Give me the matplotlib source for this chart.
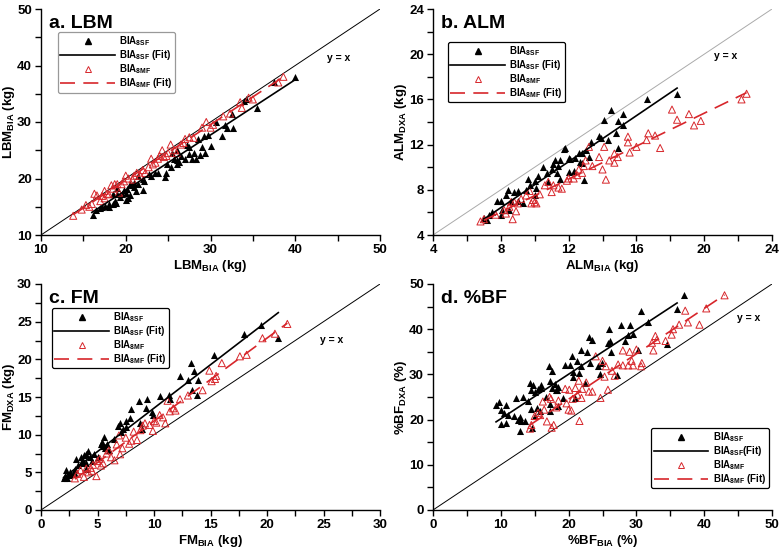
import matplotlib
matplotlib.use("Agg")
import matplotlib.pyplot as plt
from matplotlib.lines import Line2D
from matplotlib.ticker import MultipleLocator

plt.rcParams["font.family"] = ["Liberation Sans", "DejaVu Sans"]
plt.rcParams["font.weight"] = "bold"
plt.rcParams["mathtext.fontset"] = "custom"
plt.rcParams["mathtext.rm"] = "Liberation Sans:bold"
plt.rcParams["mathtext.it"] = "Liberation Sans:bold"
plt.rcParams["mathtext.bf"] = "Liberation Sans:bold"
plt.rcParams["mathtext.default"] = "rm"

RED = "#d7262b"

# ---- a. LBM ----
lbm_sf_x = [16.1, 16.5, 17.2, 17.5, 18, 18.5, 18.7, 18.9, 18.5, 19, 19.3, 19.6, 19.8, 20, 20.2, 20.3, 20.5,
            20.7, 21, 21.2, 21.5, 22, 22, 22.1, 22.8, 23.5, 23.8, 24.6, 24.7, 24.9, 25.3, 25.7, 26, 26.1,
            26.3, 26.5, 27, 27.2, 27.5, 27.5, 27.8, 28, 28.3, 28.5, 28.8, 29, 29.2, 29.3, 29.7, 30, 30.7,
            31.3, 31.7, 32, 32.5, 32.7, 34, 34.2, 35.5, 37.5, 40, 20, 21, 23, 25.5, 26, 18, 17, 19, 20.5, 21.5]
lbm_sf_y = [13.5, 14.5, 15, 15.2, 15.5, 15.5, 16, 15.6, 17.3, 17.2, 16.8, 17.2, 18, 17.5, 18.2, 16.5, 17,
            18.9, 19.2, 17.8, 19, 18, 20, 19.5, 20.8, 21, 21, 20.2, 21, 22.5, 22, 23.5, 23.2, 22.6,
            23, 24, 23.5, 26, 25.5, 24.3, 23.5, 24.5, 23.5, 27, 24.2, 25.5, 27.5, 24.5, 27.7, 25.8, 30,
            27.5, 29.5, 29, 31.5, 29, 33.8, 34, 32.5, 37, 38, 16.2, 18.5, 20.5, 24.5, 25, 15, 14.8, 18.3, 19, 20.5]
lbm_mf_x = [13.8, 14.8, 15.3, 15.7, 16, 16.3, 16.6, 17, 17.2, 17.5, 17.8, 18, 18.3, 18.5, 18.7, 19, 19.2,
            19.5, 20, 20.3, 20.8, 21, 21.3, 21.7, 22.3, 22.7, 23, 23.2, 23.5, 23.8, 24, 24.3, 24.5, 25,
            25.3, 25.8, 26, 26.5, 27, 27.5, 28, 29, 29.5, 30, 30.3, 31.5, 32.3, 33.5, 33.7, 34.5, 35,
            38, 38.6, 24.8, 22, 19.8, 17.5, 26.8]
lbm_mf_y = [13.4, 14.5, 15.3, 15, 15.5, 17.3, 17, 16, 16.9, 17.8, 17.3, 17.2, 18.8, 18.2, 19, 19, 17.5,
            19, 20.5, 20, 19.8, 20.5, 21, 20.5, 21, 22, 23.5, 22.5, 22.8, 23.5, 24, 25, 23.8, 24.5,
            26, 25, 24.5, 26, 27, 27.3, 27.2, 29, 30, 29, 29.5, 31, 31.5, 33.5, 32.5, 34.3, 34,
            37, 38, 24, 21.5, 19.5, 16.5, 26.3]
lbm_sf_fit_x = [16.0, 40.0]
lbm_sf_fit_y = [14.0, 37.5]
lbm_mf_fit_x = [13.8, 38.5]
lbm_mf_fit_y = [13.6, 37.9]

# ---- b. ALM ----
alm_sf_x = [7, 7.2, 7.3, 7.5, 7.8, 8, 8, 8.1, 8.3, 8.4, 8.5, 8.6, 8.8, 9, 9, 9.3, 9.5, 9.6, 9.7, 10, 10,
            10.1, 10.2, 10.5, 10.7, 10.8, 11, 11.1, 11.2, 11.3, 11.4, 11.5, 11.5, 11.7, 11.8, 12, 12.1,
            12.3, 12.4, 12.6, 12.7, 12.8, 12.8, 12.9, 13, 13.2, 13.3, 13.8, 13.9, 14.1, 14.3, 14.5, 14.8,
            14.9, 14.9, 15.2, 15.2, 16.6, 18.4, 12]
alm_sf_y = [5.5, 5.3, 5.8, 6, 7, 5.8, 7, 6.2, 7.5, 8, 6.2, 7, 7.8, 7.9, 7, 6.8, 8, 9, 8.4, 8.8, 7.5,
            8.2, 9.2, 10, 9.5, 8.7, 9.8, 10.3, 10.6, 9.5, 10.1, 10.6, 9, 11.6, 11.7, 9.6, 10.7,
            9.7, 10.8, 11.3, 10.5, 10.4, 11.3, 8.9, 11.5, 10.9, 12.2, 12.8, 12.6, 14.2, 12.4, 15.1, 13,
            14.1, 11.7, 14.7, 13.7, 16, 16.5, 10.8]
alm_mf_x = [6.8, 7, 7.7, 8.2, 8.3, 8.5, 8.7, 8.8, 8.9, 9, 9.2, 9.5, 9.7, 9.8, 9.9, 10, 10.1, 10.3, 10.6,
            10.8, 11.1, 11.4, 11.6, 11.9, 12, 12.3, 12.5, 12.6, 12.9, 13, 13.2, 13.4, 13.8, 14, 14.1,
            14.2, 14.4, 14.7, 14.7, 14.9, 15.5, 15.5, 15.6, 16, 16.6, 16.7, 17.1, 17.4, 18.1, 18.4, 19.1,
            19.4, 19.8, 22.2, 22.5, 12.8, 11, 8.6]
alm_mf_y = [5.2, 5.4, 5.8, 6.2, 5.9, 6.5, 5.4, 6.9, 6.1, 6.8, 7.2, 7.5, 7.9, 6.8, 7.1, 6.9, 6.8, 7.6, 8.4,
            8.7, 8.4, 8.2, 8.1, 8.8, 9, 9, 9.3, 9.8, 10.1, 10.6, 11.8, 10.1, 10.9, 9.8, 11.8,
            8.9, 10.6, 11.2, 10.4, 10.9, 12.7, 12.2, 11.3, 11.8, 12.4, 13, 12.8, 11.7, 15.1, 14.2, 14.7,
            13.7, 14.1, 16, 16.5, 9.5, 7.8, 6.9]
alm_sf_fit_x = [7.0, 18.4]
alm_sf_fit_y = [5.4, 17.0]
alm_mf_fit_x = [7.0, 22.5]
alm_mf_fit_y = [5.3, 16.6]

# ---- c. FM ----
fm_sf_x = [2, 2.1, 2.2, 2.3, 2.6, 2.8, 3, 3.1, 3.3, 3.5, 3.5, 3.7, 3.8, 4, 4, 4.2, 4.3, 4.5, 4.7, 5,
           5.3, 5.4, 5.5, 5.6, 5.7, 5.8, 6, 6.5, 6.8, 7, 7.1, 7.3, 7.5, 7.5, 7.9, 8, 8.7, 8.8, 8.9,
           9.3, 9.4, 9.8, 9.9, 10.5, 11.3, 11.4, 12.3, 13, 13.3, 13.4, 13.5, 13.8, 13.9, 15.3, 18,
           19.5, 21, 4, 3, 2.5]
fm_sf_y = [4.2, 4.5, 5.3, 4.2, 5, 4.8, 5.5, 6.8, 6, 6.3, 7, 6.5, 7.3, 6.2, 7.5, 7.8, 7, 6.5, 7.5, 7,
           8.8, 9, 8.5, 9.7, 8.2, 8.8, 7.9, 9.4, 11.2, 11.5, 10.3, 10.8, 11.8, 11, 12.2, 13.4, 14.5,
           11.5, 10.8, 13.6, 14.7, 13, 12.6, 15.1, 15.2, 14.8, 17.8, 17.3, 19.5, 15.9, 18.4, 15.2,
           17.2, 20.6, 23.4, 24.6, 22.8, 5.5, 4.8, 4.6]
fm_mf_x = [3, 3.2, 3.5, 3.8, 4, 4.2, 4.4, 4.6, 4.9, 5, 5.2, 5.5, 5.8, 6.2, 6.5, 6.7, 6.9, 7, 7.2, 7.5,
           8, 8.2, 8.5, 8.8, 9, 9.2, 9.6, 9.9, 10, 10.2, 10.5, 10.8, 11, 11.2, 11.4, 11.7, 11.9, 12.3,
           13, 14.3, 14.9, 15.1, 15.4, 15.5, 16, 17.6, 18.2, 19.6, 20.7, 21.8, 6, 7.8, 5.3, 4.5]
fm_mf_y = [4.2, 4.8, 5.3, 4.4, 5.5, 5, 5.6, 6, 4.5, 6.5, 6.8, 6.2, 7.5, 7, 6.6, 8.7, 9.9, 7.4, 8.2, 9.6,
           9.2, 10.4, 9.3, 10.6, 11.2, 11.5, 11.3, 10.5, 11.8, 11.6, 12.6, 12.3, 11.5, 14.5, 13.1, 13.5,
           13.2, 14.7, 15.2, 15.9, 18.5, 17.1, 17.4, 17.8, 19.5, 20.4, 20.6, 22.8, 23.4, 24.7, 7.9,
           8.8, 5.9, 5.2]
fm_sf_fit_x = [2.0, 21.0]
fm_sf_fit_y = [4.3, 26.2]
fm_mf_fit_x = [3.0, 21.8]
fm_mf_fit_y = [4.1, 24.8]

# ---- d. %BF ----
bf_sf_x = [9.3, 9.7, 10, 10, 10.5, 10.7, 10.8, 11, 12, 12.3, 12.5, 12.8, 12.8, 13, 13.3, 13.6, 14, 14.3,
           14.4, 14.4, 14.6, 14.8, 15, 15.1, 15.3, 15.5, 15.8, 15.9, 16, 16.6, 17.1, 17.2, 17.2, 17.3,
           17.5, 17.6, 18, 18.1, 18.3, 18.4, 18.5, 19.2, 19.5, 20.2, 20.5, 20.6, 20.7, 21, 21.2, 21.5,
           21.8, 21.8, 22.4, 22.7, 23, 23.2, 23.4, 24.4, 24.7, 24.9, 25.8, 25.9, 26.1, 26.3, 27.2,
           27.8, 28.3, 28.8, 29, 29.5, 30.2, 30.7, 31.7, 34.5, 36, 37]
bf_sf_y = [23.2, 24, 22.2, 19, 21.5, 23.3, 19.2, 21, 20.9, 24.7, 20, 20.6, 17.5, 19.8, 25, 19.6, 24.2, 28,
           26.6, 22.3, 18.2, 27.7, 26, 20.8, 22.6, 26.8, 22, 27.7, 27, 25, 31.8, 28.6, 22, 23.5,
           30.7, 26.9, 27.8, 26.6, 26.5, 27.2, 23, 24.7, 32, 32, 34, 29.5, 30.5, 24.8, 33, 30.3,
           35.5, 31.8, 28, 35, 38.3, 32.6, 37.6, 31.8, 30, 32.5, 37, 40, 37.3, 35, 29.8,
           41, 37.3, 38.8, 41, 39, 35.3, 44, 41.7, 36.8, 44.5, 47.5]
bf_mf_x = [14.3, 14.5, 15, 15.5, 15.8, 16.2, 16.4, 16.8, 17.2, 17.4, 17.5, 17.8, 18.2, 18.5, 19.5, 19.7,
           20, 20.1, 20.4, 20.6, 21, 21.3, 21.5, 21.6, 21.9, 22, 22.6, 23, 23.5, 24, 24.7, 25, 25.3,
           25.5, 25.8, 26.4, 26.8, 27.3, 28, 28, 28.8, 29, 29.3, 29.5, 30, 30.7, 30.8, 32.3, 32.5,
           32.8, 33, 34.3, 35.2, 35.4, 36.3, 37.2, 37.6, 39.3, 40.3, 43]
bf_mf_y = [18, 18.8, 20.8, 21.5, 21, 24, 22.2, 19.6, 25, 24.6, 18.2, 18.8, 22.7, 24.2, 26.8, 23.6,
           22.2, 26.6, 22, 24.6, 27, 25.5, 28.6, 19.7, 24.8, 26.8, 28.2, 26.2, 26.2, 34, 24.8, 33, 29.5,
           31.8, 26.6, 30.8, 29.7, 32.2, 35.3, 32, 32, 35, 33, 32, 35.5, 31.8, 32.5, 37, 35.3,
           38.5, 37.6, 37.4, 38.8, 40, 41, 44.1, 41.5, 41, 44.6, 47.5]
bf_sf_fit_x = [9.3, 36.0]
bf_sf_fit_y = [19.5, 45.8]
bf_mf_fit_x = [14.3, 43.0]
bf_mf_fit_y = [18.8, 47.6]

W, H = 784, 550
fig = plt.figure(figsize=(W / 100, H / 100), dpi=100)


def _axes(x0, y0, x1, y1):
    return fig.add_axes([x0 / W, 1 - y1 / H, (x1 - x0) / W, (y1 - y0) / H])


def panel(ax, lim, major, minor, title, xlabel, ylabel, sf, mf, sf_fit, mf_fit,
          yx_text, yx_color, leg_anchor, leg_loc, leg_edge, fit_label_sf):
    ax.plot(lim, lim, color=yx_color, lw=0.7, zorder=1)
    ax.scatter(sf[0], sf[1], marker="^", s=26, c="black", linewidths=0, zorder=3)
    ax.plot(sf_fit[0], sf_fit[1], color="black", lw=1.2, zorder=4)
    ax.scatter(mf[0], mf[1], marker="^", s=26, facecolors="none", edgecolors=RED, linewidths=0.7, zorder=3)
    ax.plot(mf_fit[0], mf_fit[1], color=RED, lw=1.2, ls=(0, (9, 5)), zorder=4)
    ax.set_xlim(lim)
    ax.set_ylim(lim)
    ax.xaxis.set_major_locator(MultipleLocator(major))
    ax.yaxis.set_major_locator(MultipleLocator(major))
    ax.xaxis.set_minor_locator(MultipleLocator(minor))
    ax.yaxis.set_minor_locator(MultipleLocator(minor))
    ax.tick_params(which="both", direction="out", length=4, width=1, labelsize=9.5, pad=2.5)
    for lab in ax.get_xticklabels() + ax.get_yticklabels():
        lab.set_fontweight("bold")
    for s in ("top", "right"):
        ax.spines[s].set_visible(False)
    for s in ("left", "bottom"):
        ax.spines[s].set_linewidth(1.0)
    ax.set_xlabel(xlabel, fontsize=9.5, fontweight="bold")
    ax.set_ylabel(ylabel, fontsize=9.5, fontweight="bold")
    ax.xaxis.set_label_coords(0.5, -0.1)
    ax.yaxis.set_label_coords(-0.07, 0.5)
    ax.text(0.025, 0.975, title, transform=ax.transAxes, fontsize=14, fontweight="bold",
            va="top", ha="left")
    ax.text(yx_text[0], yx_text[1], "y = x", fontsize=7.5, fontweight="bold", ha="left", va="center")

    handles = [
        Line2D([], [], ls="none", marker="^", color="black", markersize=5),
        Line2D([], [], color="black", lw=1.2),
        Line2D([], [], ls="none", marker="^", markerfacecolor="none", markeredgecolor=RED,
               markeredgewidth=0.7, markersize=5),
        Line2D([], [], color=RED, lw=1.2, ls=(0, (9, 5))),
    ]
    labels = ["BIA$_{8SF}$", fit_label_sf, "BIA$_{8MF}$", "BIA$_{8MF}$ (Fit)"]
    leg = ax.legend(handles, labels, loc=leg_loc, bbox_to_anchor=leg_anchor,
                    handlelength=5.6, handletextpad=0.45, labelspacing=0.0, borderpad=0.25,
                    borderaxespad=0.0, fancybox=True, framealpha=1,
                    prop={"weight": "bold", "size": 7})
    leg.get_frame().set_edgecolor(leg_edge)
    leg.get_frame().set_linewidth(0.9)


ax_a = _axes(41, 9, 380, 235)
panel(ax_a, (10, 50), 10, 5, "a. LBM", "LBM$_{BIA}$ (kg)", "LBM$_{BIA}$ (kg)",
      (lbm_sf_x, lbm_sf_y), (lbm_mf_x, lbm_mf_y), (lbm_sf_fit_x, lbm_sf_fit_y),
      (lbm_mf_fit_x, lbm_mf_fit_y), (43.8, 41.4), "black", (0.05, 0.898), "upper left",
      "#999999", "BIA$_{8SF}$ (Fit)")

ax_b = _axes(433, 9, 772, 235)
panel(ax_b, (4, 24), 4, 2, "b. ALM", "ALM$_{BIA}$ (kg)", "ALM$_{DXA}$ (kg)",
      (alm_sf_x, alm_sf_y), (alm_mf_x, alm_mf_y), (alm_sf_fit_x, alm_sf_fit_y),
      (alm_mf_fit_x, alm_mf_fit_y), (20.6, 19.8), "#aaaaaa", (0.044, 0.854), "upper left",
      "black", "BIA$_{8SF}$ (Fit)")

ax_c = _axes(41, 284, 380, 510)
panel(ax_c, (0, 30), 5, 2.5, "c. FM", "FM$_{BIA}$ (kg)", "FM$_{DXA}$ (kg)",
      (fm_sf_x, fm_sf_y), (fm_mf_x, fm_mf_y), (fm_sf_fit_x, fm_sf_fit_y),
      (fm_mf_fit_x, fm_mf_fit_y), (24.7, 22.6), "black", (0.032, 0.894), "upper left",
      "black", "BIA$_{8SF}$ (Fit)")

ax_d = _axes(433, 284, 772, 510)
panel(ax_d, (0, 50), 10, 5, "d. %BF", "%BF$_{BIA}$ (%)", "%BF$_{DXA}$ (%)",
      (bf_sf_x, bf_sf_y), (bf_mf_x, bf_mf_y), (bf_sf_fit_x, bf_sf_fit_y),
      (bf_mf_fit_x, bf_mf_fit_y), (44.8, 42.4), "black", (0.99, 0.363), "upper right",
      "black", "BIA$_{8SF}$(Fit)")

fig.savefig("out.png", dpi=100)
